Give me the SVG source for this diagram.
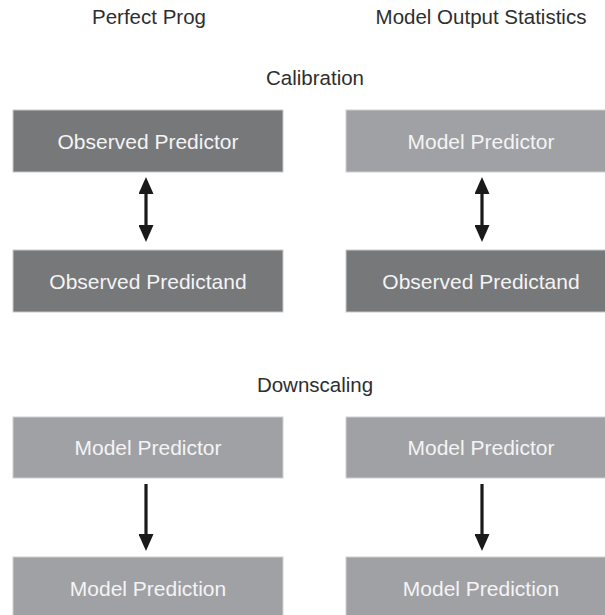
<svg xmlns="http://www.w3.org/2000/svg" width="605" height="615" viewBox="0 0 605 615">
<style>
.title{font-family:"Liberation Sans",Arial,sans-serif;font-size:20.5px;fill:#2e2e2e;text-anchor:middle}
.lbl{font-family:"Liberation Sans",Arial,sans-serif;font-size:21px;fill:#f4f4f4;text-anchor:middle}
.dark{fill:#77787a;stroke:#c9c9cb;stroke-width:1}
.light{fill:#a0a1a5;stroke:#d0d0d2;stroke-width:1}
.conn{stroke:#1a1a1a;stroke-width:3.2;fill:none}
</style>
<defs>
<marker id="ah" markerUnits="userSpaceOnUse" markerWidth="17" markerHeight="15" viewBox="0 0 17 15" refX="13" refY="7.5" orient="auto-start-reverse">
<path d="M0,0 L17,7.5 L0,15 z" fill="#1a1a1a"/>
</marker>
</defs>
<rect width="605" height="615" fill="#ffffff"/>
<text class="title" x="149" y="23.5">Perfect Prog</text>
<text class="title" x="481" y="23.5">Model Output Statistics</text>
<text class="title" x="315" y="85">Calibration</text>
<text class="title" x="315" y="392">Downscaling</text>
<g id="pp-obs-predictor"><rect class="dark" x="13" y="110" width="270" height="62"/><text class="lbl" x="148" y="148.5">Observed Predictor</text></g>
<g id="pp-obs-predictand"><rect class="dark" x="13" y="250" width="270" height="62"/><text class="lbl" x="148" y="288.5">Observed Predictand</text></g>
<g id="mos-model-predictor"><rect class="light" x="346" y="110" width="270" height="62"/><text class="lbl" x="481" y="148.5">Model Predictor</text></g>
<g id="mos-obs-predictand"><rect class="dark" x="346" y="250" width="270" height="62"/><text class="lbl" x="481" y="288.5">Observed Predictand</text></g>
<g id="pp-model-predictor"><rect class="light" x="13" y="417" width="270" height="61"/><text class="lbl" x="148" y="455">Model Predictor</text></g>
<g id="pp-model-prediction"><rect class="light" x="13" y="557" width="270" height="62"/><text class="lbl" x="148" y="595.5">Model Prediction</text></g>
<g id="mos-model-predictor2"><rect class="light" x="346" y="417" width="270" height="61"/><text class="lbl" x="481" y="455">Model Predictor</text></g>
<g id="mos-model-prediction"><rect class="light" x="346" y="557" width="270" height="62"/><text class="lbl" x="481" y="595.5">Model Prediction</text></g>
<g id="connectors">
<line class="conn" x1="146" y1="181" x2="146" y2="238" marker-start="url(#ah)" marker-end="url(#ah)"/>
<line class="conn" x1="482" y1="181" x2="482" y2="238" marker-start="url(#ah)" marker-end="url(#ah)"/>
<line class="conn" x1="146" y1="484" x2="146" y2="547" marker-end="url(#ah)"/>
<line class="conn" x1="482" y1="484" x2="482" y2="547" marker-end="url(#ah)"/>
</g>
</svg>
